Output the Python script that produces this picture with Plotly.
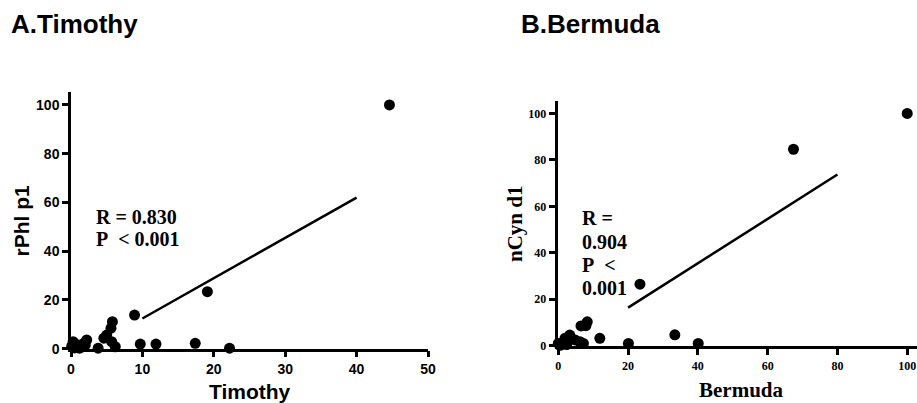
import plotly.graph_objects as go

# Panel A: Timothy vs rPhl p1
timothy_x = [44.6, 19.1, 8.9, 5.8, 5.6, 5.0, 5.7, 6.2, 3.8, 2.2, 2.0, 0.3, 1.0, 0.5, 1.2,
             9.7, 11.9, 17.4, 22.2, 0.1, 1.6, 4.6, 1.8]
rphl_y = [100, 23.4, 13.8, 11.1, 8.4, 5.6, 2.9, 0.8, 0.2, 3.6, 1.5, 2.9, 1.5, 0.3, 0.2,
          1.9, 1.9, 2.2, 0.2, 1.0, 0.8, 4.3, 2.2]
fitA_x = [10, 40]
fitA_y = [12.4, 62.0]

# Panel B: Bermuda vs nCyn d1
bermuda_x = [100, 67.4, 23.4, 33.4, 40.1, 20.1, 11.9, 8.3, 6.5, 7.9, 1.9, 3.3, 4.8, 6.2,
             7.2, 0.0, 1.0, 2.4, 0.5]
ncyn_y = [100, 84.6, 26.5, 4.7, 1.0, 1.0, 3.2, 10.3, 8.5, 8.6, 3.2, 4.6, 2.5, 1.7,
          1.0, 1.0, 1.0, 0.5, 0.2]
fitB_x = [20, 80]
fitB_y = [16.4, 73.7]

W, H = 917, 403
def px(x): return x / W
def py(y): return (H - y) / H

fig = go.Figure()
fig.add_trace(go.Scatter(x=timothy_x, y=rphl_y, mode="markers", xaxis="x", yaxis="y",
                         marker=dict(size=11, color="black"), cliponaxis=False, showlegend=False))
fig.add_trace(go.Scatter(x=fitA_x, y=fitA_y, mode="lines", xaxis="x", yaxis="y",
                         line=dict(color="black", width=2.5), showlegend=False))
fig.add_trace(go.Scatter(x=bermuda_x, y=ncyn_y, mode="markers", xaxis="x2", yaxis="y2",
                         marker=dict(size=11, color="black"), cliponaxis=False, showlegend=False))
fig.add_trace(go.Scatter(x=fitB_x, y=fitB_y, mode="lines", xaxis="x2", yaxis="y2",
                         line=dict(color="black", width=2.5), showlegend=False))

sans = dict(family="Liberation Sans, Arial, sans-serif", color="black", weight="bold")
serif = dict(family="Liberation Serif, Times New Roman, serif", color="black", weight="bold")

common = dict(showline=True, linecolor="black", linewidth=2.5, ticks="outside",
              tickcolor="black", tickwidth=2.5, showgrid=False, zeroline=False,
              automargin=False)

fig.update_layout(
    width=W, height=H, margin=dict(l=0, r=0, t=0, b=0),
    paper_bgcolor="white", plot_bgcolor="white",
    xaxis=dict(domain=[px(71), px(428)], range=[0, 50], tickvals=[0, 10, 20, 30, 40, 50],
               ticklen=6, tickfont=dict(size=14, **sans), anchor="y", **common),
    yaxis=dict(domain=[py(348.7), py(92)], range=[0, 105.3], tickvals=[0, 20, 40, 60, 80, 100],
               ticklen=6, tickfont=dict(size=14, **sans), anchor="x", **common),
    xaxis2=dict(domain=[px(558.3), 1.0], range=[0, 102.8], tickvals=[0, 20, 40, 60, 80, 100],
                ticklen=7, tickfont=dict(size=12, **serif), anchor="y2", **common),
    yaxis2=dict(domain=[py(345.7), py(100.7)], range=[0, 105.5], tickvals=[0, 20, 40, 60, 80, 100],
                ticklen=7, tickfont=dict(size=12, **serif), anchor="x2", **common),
)

ann = []
def add(text, x, y, font, xanchor="left", angle=0):
    ann.append(dict(text=text, x=px(x), y=py(y), xref="paper", yref="paper",
                    xanchor=xanchor, yanchor="middle", showarrow=False, font=font,
                    textangle=angle))

add("A.Timothy", 9, 23.7, dict(size=26, **sans))
add("B.Bermuda", 519, 23.7, dict(size=26, **sans))
add("rPhl p1", 21.7, 220.8, dict(size=21, **sans), xanchor="center", angle=-90)
add("Timothy", 249.5, 391, dict(size=21, **sans), xanchor="center")
add("nCyn d1", 515, 224, dict(size=21, **serif), xanchor="center", angle=-90)
add("Bermuda", 741.7, 390, dict(size=21, **serif), xanchor="center")
add("R = 0.830", 94, 216.7, dict(size=20, **serif))
add("P\u00a0\u00a0< 0.001", 94, 239.3, dict(size=20, **serif))
add("R =", 580, 218.3, dict(size=20, **serif))
add("0.904", 580, 241.7, dict(size=20, **serif))
add("P\u00a0\u00a0<", 580, 265, dict(size=20, **serif))
add("0.001", 580, 288.3, dict(size=20, **serif))
fig.update_layout(annotations=ann)

fig.write_html("out.html", config={"displayModeBar": False},
               post_script="document.body.style.margin='0';document.body.style.overflow='hidden';")
